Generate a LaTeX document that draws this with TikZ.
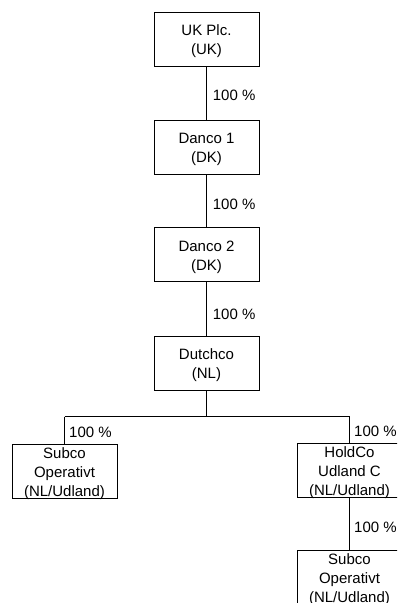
\documentclass[tikz,border=0pt]{standalone}
\usepackage{fontspec}
\setmainfont{Liberation Sans}
\begin{document}
\begin{tikzpicture}[x=1pt,y=-1pt,
  entity/.style={draw=black, line width=0.8pt, minimum width=105pt, minimum height=54pt, inner sep=0pt, anchor=center},
  entitytext/.style={align=center, inner sep=0pt, font=\fontsize{15pt}{19pt}\selectfont, yshift=-2.5pt},
  share/.style={anchor=base west, inner sep=0pt, font=\fontsize{15pt}{19pt}\selectfont},
  link/.style={draw=black, line width=0.8pt}]
\useasboundingbox (0,0) rectangle (397,603);
\clip (0,0) rectangle (397,603);

% company boxes
\node[entity] (uk) at (206.5,39) {};
\node[entity] (dk1) at (206.5,147) {};
\node[entity] (dk2) at (206.5,254.5) {};
\node[entity] (nl) at (206.5,363) {};
\node[entity] (subl) at (64.5,471) {};
\node[entity] (hold) at (349.5,470.5) {};
\node[entity] (subr) at (349.5,577) {};

% box texts
\node[entitytext] (tuk) at (uk) {UK Plc.\\(UK)};
\node[entitytext] (tdk1) at (dk1) {Danco 1\\(DK)};
\node[entitytext] (tdk2) at (dk2) {Danco 2\\(DK)};
\node[entitytext] (tnl) at (nl) {Dutchco\\(NL)};
\node[entitytext] (tsubl) at (subl) {Subco\\Operativt\\(NL/Udland)};
\node[entitytext] (thold) at (hold) {HoldCo\\Udland C\\(NL/Udland)};
\node[entitytext] (tsubr) at (subr) {Subco\\Operativt\\(NL/Udland)};

% ownership chain
\draw[link] (uk.south) -- (dk1.north);
\draw[link] (dk1.south) -- (dk2.north);
\draw[link] (dk2.south) -- (nl.north);

% split below Dutchco
\coordinate (bus) at (206.5,416.5);
\coordinate (busl) at (64.5,416.5);
\coordinate (busr) at (349.5,416.5);
\draw[link] (nl.south) -- (bus);
\draw[link] (busl) -- (busr);
\draw[link] (busl) -- (subl.north);
\draw[link] (busr) -- (hold.north);
\draw[link] (hold.south) -- (subr.north);

% ownership shares
\node[share] (p1) at (212.7,100.7) {100 \%};
\node[share] (p2) at (212.7,209) {100 \%};
\node[share] (p3) at (212.7,319) {100 \%};
\node[share] (p4) at (69,437) {100 \%};
\node[share] (p5) at (354,436) {100 \%};
\node[share] (p6) at (354,532) {100 \%};
\end{tikzpicture}
\end{document}
